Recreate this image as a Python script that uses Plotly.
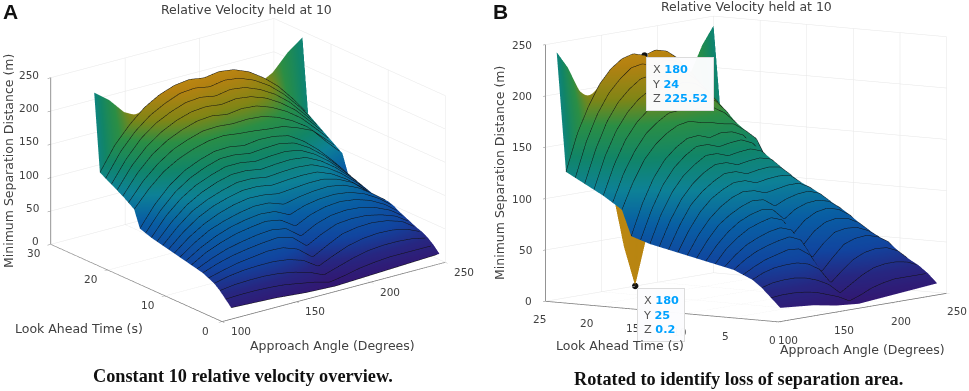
import plotly.graph_objects as go

approach_angle = [110, 120, 130, 140, 150, 160, 170, 180, 190, 200, 210, 220, 230, 240, 250]
look_ahead = list(range(1, 26))
min_separation = [
    [11, 10, 9, 8, 6, 4, 3, 2, 3, 4, 5, 6, 7, 8, 9],
    [20, 21, 21, 20, 18, 14, 10, 4, 8, 13, 16, 18, 18, 18, 18],
    [29, 32, 33, 33, 31, 27, 21, 11, 18, 25, 30, 32, 32, 30, 25],
    [36, 41, 44, 45, 45, 42, 35, 20, 30, 39, 44, 46, 45, 40, 30],
    [40, 46, 51, 54, 57, 56, 48, 30, 42, 53, 57, 58, 55, 48, 33],
    [44, 52, 58, 62, 65, 67, 62, 43, 55, 64, 66, 65, 60, 52, 37],
    [46, 56, 64, 69, 73, 75, 71, 54, 66, 73, 75, 73, 67, 57, 41],
    [48, 61, 70, 77, 81, 84, 80, 65, 76, 82, 84, 81, 74, 62, 45],
    [50, 64, 75, 83, 88, 91, 89, 78, 86, 90, 91, 88, 80, 67, 50],
    [52, 68, 81, 89, 95, 99, 98, 90, 95, 98, 99, 95, 85, 70, 53],
    [54, 72, 86, 96, 103, 107, 106, 102, 104, 106, 106, 100, 89, 70, 49],
    [56, 76, 92, 103, 110, 115, 115, 111, 113, 114, 113, 104, 90, 72, 52],
    [58, 80, 98, 109, 117, 123, 123, 119, 121, 122, 120, 110, 95, 76, 55],
    [60, 84, 103, 116, 125, 131, 131, 127, 129, 130, 127, 116, 100, 80, 58],
    [62, 89, 109, 123, 132, 139, 139, 135, 137, 138, 134, 122, 105, 84, 61],
    [65, 93, 115, 130, 140, 147, 147, 143, 145, 146, 141, 128, 110, 88, 64],
    [68, 98, 121, 137, 147, 154, 155, 151, 154, 153, 148, 134, 115, 92, 67],
    [93, 118, 138, 151, 160, 166, 168, 165, 163, 160, 158, 150, 140, 116, 94],
    [99, 126, 146, 161, 170, 177, 178, 176, 177, 175, 168, 157, 142, 121, 100],
    [105, 134, 156, 171, 181, 188, 190, 186, 189, 187, 179, 167, 151, 129, 106],
    [110, 141, 164, 180, 191, 198, 200, 197, 200, 197, 189, 176, 159, 136, 112],
    [115, 147, 172, 189, 200, 208, 210, 206, 210, 207, 198, 185, 167, 143, 118],
    [120, 154, 179, 197, 209, 218, 220, 216, 220, 217, 208, 194, 175, 151, 124],
    [125, 160, 185, 205, 218, 226, 229, 225.52, 229, 226, 217, 202, 183, 158, 130],
    [241, 224, 200, 188, 160, 95, 40, 0.2, 45, 100, 160, 188, 200, 224, 241],
]
# The last row is painted with the colours of the row before it, as in the source figure.
face_colour = min_separation[:-1] + [min_separation[-2]]

x_ticks = [100, 150, 200, 250]
y_ticks_a = [0, 10, 20, 30]
y_ticks_b = [0, 5, 10, 15, 20, 25]
z_ticks = [0, 50, 100, 150, 200, 250]

tip_x = [180, 180]
tip_y = [24, 25]
tip_z = [225.52, 0.2]

colours = [
    [0.00, "rgb(60,25,130)"], [0.10, "rgb(45,45,150)"], [0.20, "rgb(20,80,185)"],
    [0.33, "rgb(10,110,190)"], [0.46, "rgb(15,150,175)"], [0.58, "rgb(20,155,120)"],
    [0.70, "rgb(50,165,80)"], [0.80, "rgb(150,155,25)"], [0.92, "rgb(210,150,20)"],
    [1.00, "rgb(225,165,20)"],
]
TXT = "#404040"
FONT = "DejaVu Sans"


def surface(scene):
    return go.Surface(
        x=approach_angle, y=look_ahead, z=min_separation, surfacecolor=face_colour,
        colorscale=colours, cmin=0, cmax=240, showscale=False, scene=scene, hoverinfo="skip",
        lighting=dict(ambient=0.86, diffuse=0.3, specular=0, fresnel=0, roughness=1),
        lightposition=dict(x=-10000, y=-2000, z=3000),
        contours=dict(
            x=dict(show=False, highlight=False),
            y=dict(show=True, start=1, end=25, size=1, color="#101010", width=1, highlight=False),
            z=dict(show=False, highlight=False),
        ),
    )


def axis(rng, ticks):
    return dict(
        range=rng, tickvals=ticks, showticklabels=False, title=dict(text=""), showbackground=False,
        showgrid=True, gridcolor="#e6e6e6", gridwidth=1, zeroline=False, showspikes=False,
        showline=True, linecolor="#707070", linewidth=1.5, ticks="outside", ticklen=4, tickcolor="#808080",
    )


def tick_notes(y_ticks, ymax, xs, ys, zs):
    out = []
    f = dict(family=FONT, size=10.5, color=TXT)
    for t in x_ticks:
        out.append(dict(x=t, y=0, z=0, text=str(t), showarrow=False, xshift=xs[0], yshift=xs[1], font=f))
    for t in y_ticks:
        out.append(dict(x=100, y=t, z=0, text=str(t), showarrow=False, xshift=ys[0], yshift=ys[1], font=f))
    for t in z_ticks:
        out.append(dict(x=100, y=ymax, z=t, text=str(t), showarrow=False, xanchor="right", xshift=zs[0], yshift=zs[1], font=f))
    return out


def tip(i):
    blue = 'style="color:#00a2ff"'
    txt = (f'X <span {blue}><b>{tip_x[i]}</b></span><br>Y <span {blue}><b>{tip_y[i]}</b></span>'
           f'<br>Z <span {blue}><b>{tip_z[i]}</b></span>')
    return dict(x=tip_x[i], y=tip_y[i], z=tip_z[i], text=txt, showarrow=False, xanchor="left", yanchor="top",
                align="left", xshift=2, yshift=-2, bgcolor="rgba(252,252,254,0.98)", bordercolor="#dcdcdc",
                borderpad=5, borderwidth=1, font=dict(family=FONT, size=11.3, color="#555555"))


fig = go.Figure()
fig.add_trace(surface("scene"))
fig.add_trace(surface("scene2"))
fig.add_trace(go.Scatter3d(x=tip_x, y=tip_y, z=tip_z, mode="markers", scene="scene2", hoverinfo="skip",
                           marker=dict(size=4, color="#111111", line=dict(color="white", width=1))))

W, H = 969, 391
scene_a = dict(
    domain=dict(x=[0, 496 / W], y=[1 - 340 / H, 1]),
    aspectmode="manual", aspectratio=dict(x=1.655, y=1.655, z=1.045),
    camera=dict(projection=dict(type="orthographic"), eye=dict(x=-1.142, y=-1.488, z=0.692),
                up=dict(x=0, y=0, z=1), center=dict(x=0, y=0, z=0)),
    xaxis=axis([100, 250], x_ticks), yaxis=axis([0, 30], y_ticks_a), zaxis=axis([0, 250], z_ticks),
    annotations=tick_notes(y_ticks_a, 30, (19, -9.5), (-17, -9), (-10, 3)),
)
scene_b = dict(
    domain=dict(x=[523 / W, 1], y=[1 - 338 / H, 1]),
    aspectmode="manual", aspectratio=dict(x=1.70, y=1.70, z=1.53),
    camera=dict(projection=dict(type="orthographic"), eye=dict(x=-1.61, y=-1.162, z=0.245),
                up=dict(x=0, y=0, z=1), center=dict(x=0, y=0, z=0)),
    xaxis=axis([100, 250], x_ticks), yaxis=axis([0, 25], y_ticks_b), zaxis=axis([0, 250], z_ticks),
    annotations=tick_notes(y_ticks_b, 25, (10, -18), (-6, -18), (-11, 0)) + [tip(0), tip(1)],
)


def note(px, py, text, size=12.5, color=TXT, family=FONT, angle=0):
    return dict(x=px / W, y=1 - py / H, xref="paper", yref="paper", text=text, showarrow=False, textangle=angle,
                font=dict(family=family, size=size, color=color), xanchor="center", yanchor="middle")


annotations = [
    note(10, 11, "<b>A</b>", 21, "#111111", "Liberation Sans"),
    note(247, 10, "Relative Velocity held at 10"),
    note(79, 328, "Look Ahead Time (s)"),
    note(332, 345, "Approach Angle (Degrees)"),
    note(8, 161, "Minimum Separation Distance (m)", angle=-90),
    note(243.5, 376, "<b>Constant 10 relative velocity overview.</b>", 18.3, "#111111", "Liberation Serif"),
    note(500, 11, "<b>B</b>", 21, "#111111", "Liberation Sans"),
    note(746, 7, "Relative Velocity held at 10"),
    note(620, 345, "Look Ahead Time (s)"),
    note(862, 349, "Approach Angle (Degrees)"),
    note(500, 173, "Minimum Separation Distance (m)", angle=-90),
    note(738, 379, "<b>Rotated to identify loss of separation area.</b>", 18.3, "#111111", "Liberation Serif"),
]

fig.update_layout(width=W, height=H, margin=dict(l=0, r=0, t=0, b=0), paper_bgcolor="white", showlegend=False,
                  scene=scene_a, scene2=scene_b, annotations=annotations)
fig.write_html("out.html", config=dict(displayModeBar=False), post_script="document.body.style.margin='0';")
